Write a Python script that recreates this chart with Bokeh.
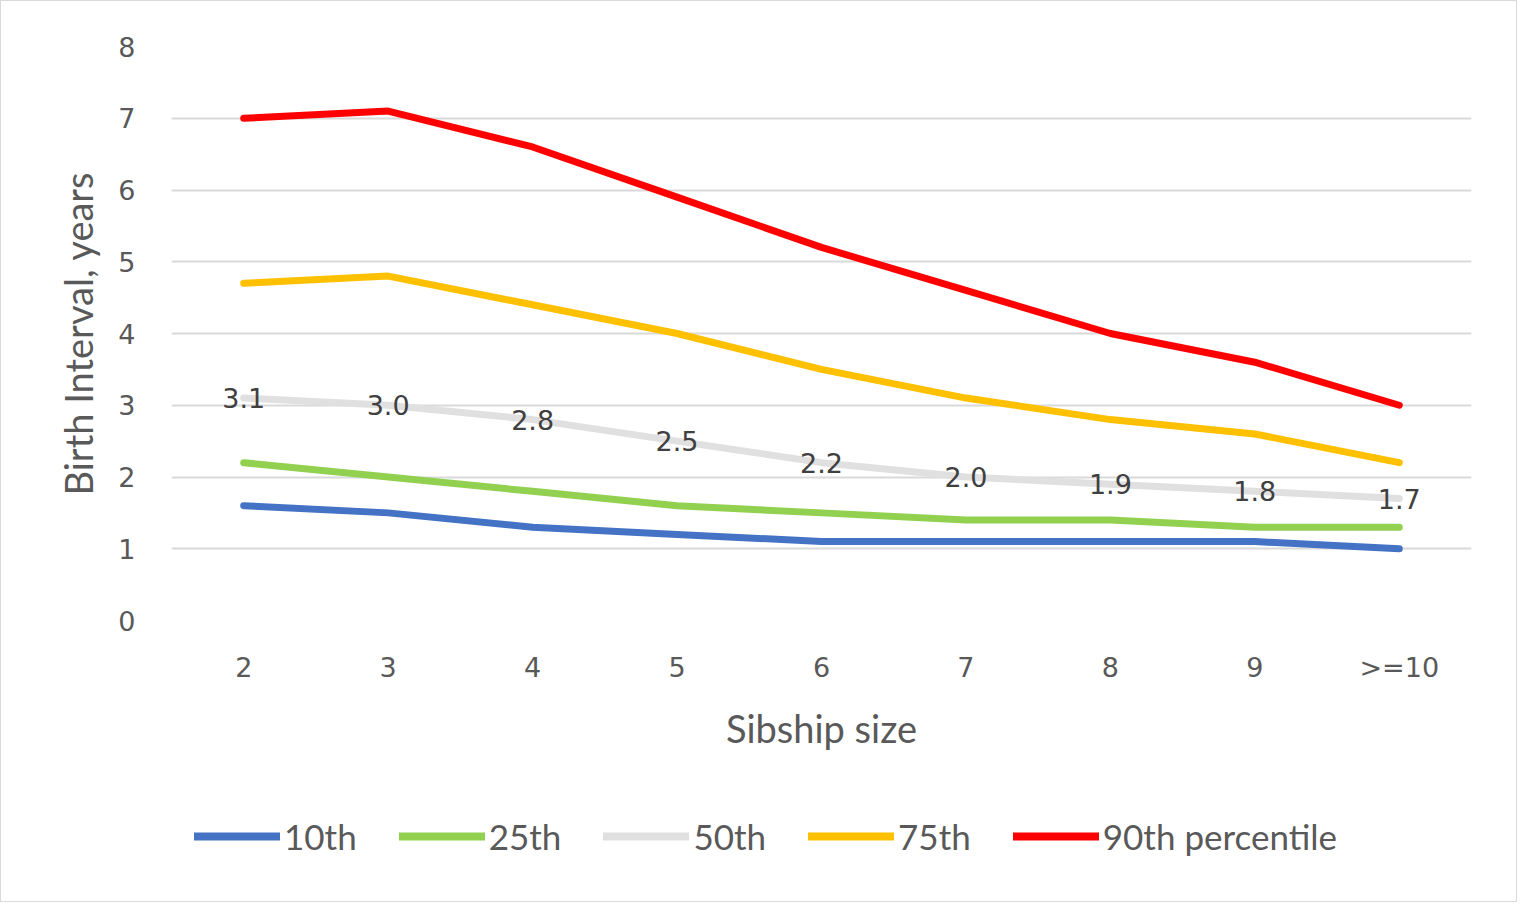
from bokeh.plotting import figure
from bokeh.models import FactorRange, Range1d, Legend, LegendItem, ColumnDataSource, LabelSet, SingleIntervalTicker
from bokeh.layouts import column
from bokeh.core.properties import value
from bokeh.embed import file_html
from bokeh.resources import INLINE

categories = ["2", "3", "4", "5", "6", "7", "8", "9", ">=10"]
p10 = [1.6, 1.5, 1.3, 1.2, 1.1, 1.1, 1.1, 1.1, 1.0]
p25 = [2.2, 2.0, 1.8, 1.6, 1.5, 1.4, 1.4, 1.3, 1.3]
p50 = [3.1, 3.0, 2.8, 2.5, 2.2, 2.0, 1.9, 1.8, 1.7]
p75 = [4.7, 4.8, 4.4, 4.0, 3.5, 3.1, 2.8, 2.6, 2.2]
p90 = [7.0, 7.1, 6.6, 5.9, 5.2, 4.6, 4.0, 3.6, 3.0]
series_names = ["10th", "25th", "50th", "75th", "90th percentile"]
colors = ["#4472C4", "#92D050", "#E0E0E0", "#FFC000", "#FF0000"]
all_series = [p10, p25, p50, p75, p90]

p = figure(x_range=FactorRange(*categories, range_padding=0), y_range=Range1d(0, 8),
           width=1515, height=790, output_backend="svg", toolbar_location=None,
           min_border_left=170, min_border_right=45, min_border_top=45, min_border_bottom=171)
p.outline_line_color = None
p.xgrid.grid_line_color = None
p.ygrid.grid_line_color = "#d9d9d9"
p.ygrid.grid_line_width = 2
p.yaxis.ticker = SingleIntervalTicker(interval=1)

for ax in (p.xaxis, p.yaxis):
    ax.axis_line_color = None
    ax.major_tick_line_color = None
    ax.minor_tick_line_color = None
    ax.major_label_text_color = "#595959"
    ax.major_label_text_font = "DejaVu Sans"
    ax.major_label_text_font_size = "27px"
    ax.axis_label_text_color = "#595959"
    ax.axis_label_text_font = "Lato"
    ax.axis_label_text_font_size = "38px"
    ax.axis_label_text_font_style = "normal"
p.yaxis.major_label_standoff = 30
p.xaxis.major_label_standoff = 25
p.xaxis.axis_label = "Sibship size"
p.yaxis.axis_label = "Birth Interval, years"
p.xaxis.axis_label_standoff = 19
p.yaxis.axis_label_standoff = 14

for name, vals, col in zip(series_names, all_series, colors):
    src = ColumnDataSource(dict(x=categories, y=vals))
    p.line("x", "y", source=src, line_color=col, line_width=7, line_cap="round", line_join="round")

lab_src = ColumnDataSource(dict(x=categories, y=p50, t=[f"{v:.1f}" for v in p50]))
labels = LabelSet(x="x", y="y", text="t", source=lab_src, text_align="center", text_baseline="middle",
                  text_font=value("DejaVu Sans"), text_font_size=value("27px"), text_color="#404040")
p.add_layout(labels)

# legend strip below the chart (its series lie outside its visible range)
p2 = figure(width=1515, height=110, output_backend="svg", toolbar_location=None,
            x_range=FactorRange(*categories), y_range=Range1d(50, 51),
            x_axis_type=None, y_axis_type=None, min_border=0)
p2.outline_line_color = None
p2.grid.grid_line_color = None
leg_renderers = []
for name, vals, col in zip(series_names, all_series, colors):
    src = ColumnDataSource(dict(x=categories, y=vals))
    r = p2.line("x", "y", source=src, line_color=col, line_width=8, line_cap="round")
    leg_renderers.append(r)

legend = Legend(items=[LegendItem(label=n, renderers=[r]) for n, r in zip(series_names, leg_renderers)],
                orientation="horizontal", location=(23, 44), border_line_color=None,
                background_fill_alpha=0, glyph_width=86, glyph_height=20, label_standoff=4,
                spacing=42, label_text_font="Lato", label_text_font_size="35px",
                label_text_color="#595959", padding=0, margin=0)
p2.add_layout(legend, "center")

layout = column(p, p2, spacing=0)
layout.styles = {"border": "1.5px solid #d9d9d9"}

open("out.html", "w").write(file_html(layout, INLINE))
